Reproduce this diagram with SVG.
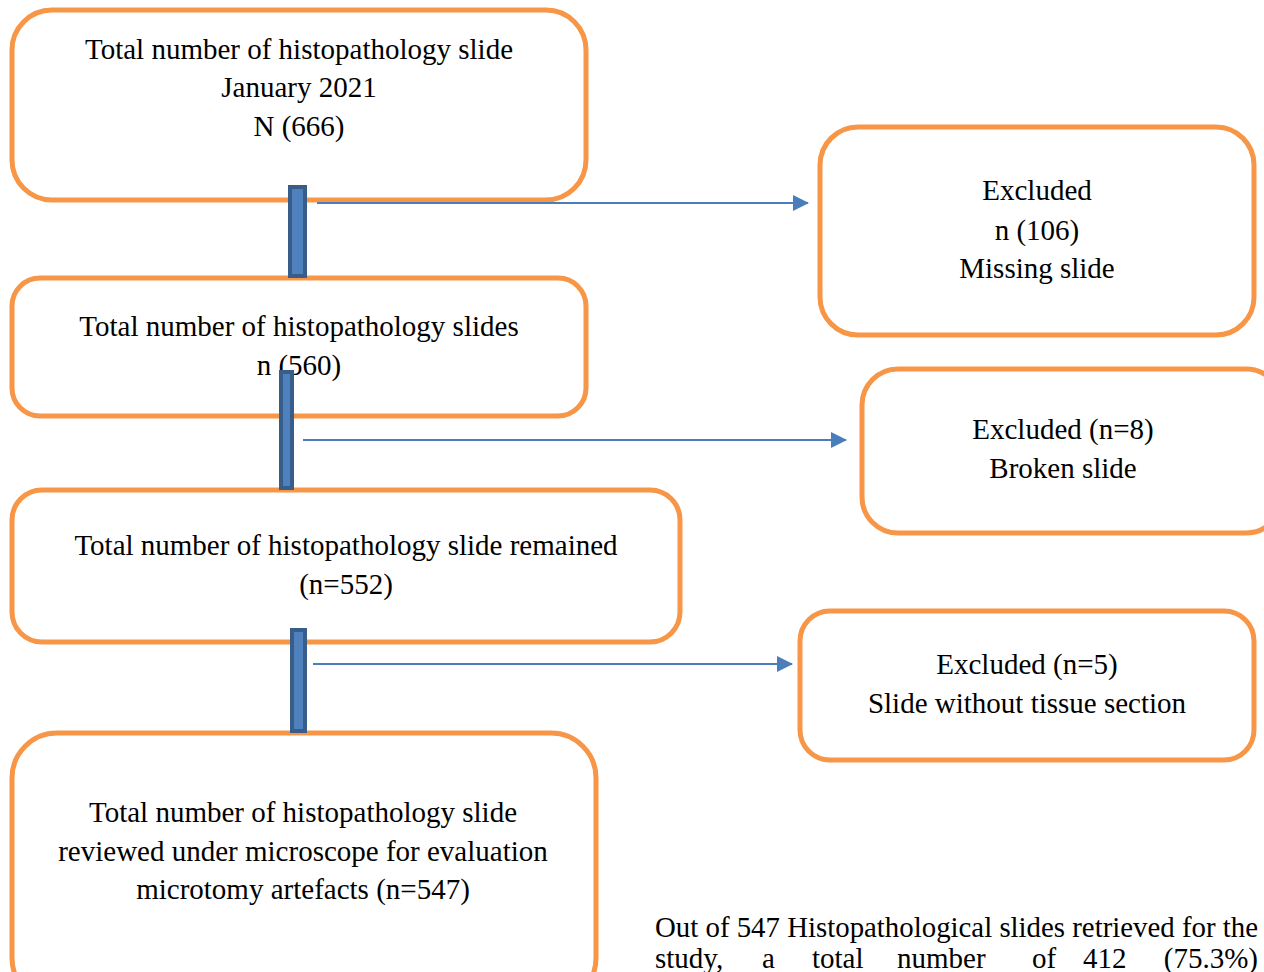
<svg xmlns="http://www.w3.org/2000/svg" width="1264" height="972" viewBox="0 0 1264 972">
<style>
.box{fill:#ffffff;stroke:#F79646;stroke-width:5}
.t{font-family:"Liberation Serif","Times New Roman",serif;font-size:29px;fill:#000;text-anchor:middle}
.tl{font-family:"Liberation Serif","Times New Roman",serif;font-size:29px;fill:#000}
.bar{fill:#4F81BD;stroke:#385D8A;stroke-width:4}
.arr{stroke:#4A7EBB;stroke-width:2;fill:none;marker-end:url(#ah)}
</style>
<defs>
<marker id="ah" markerWidth="16" markerHeight="16" refX="15" refY="8" orient="auto" markerUnits="userSpaceOnUse">
<path d="M0,0 L16,8 L0,16 Z" fill="#4A7EBB"/>
</marker>
</defs>
<rect width="1264" height="972" fill="#ffffff"/>
<g id="n1"><rect class="box" x="12" y="10" width="574" height="190" rx="40"/>
<text class="t" x="299" y="59">Total number of histopathology slide</text>
<text class="t" x="299" y="97">January 2021</text>
<text class="t" x="299" y="136">N (666)</text></g>
<g id="n2"><rect class="box" x="820" y="127" width="434" height="208" rx="38"/>
<text class="t" x="1037" y="200">Excluded</text>
<text class="t" x="1037" y="240">n (106)</text>
<text class="t" x="1037" y="278">Missing slide</text></g>
<g id="n3"><rect class="box" x="12" y="278" width="574" height="138" rx="28"/>
<text class="t" x="299" y="336">Total number of histopathology slides</text>
<text class="t" x="299" y="375">n (560)</text></g>
<g id="n4"><rect class="box" x="862" y="369" width="420" height="164" rx="36"/>
<text class="t" x="1063" y="439">Excluded (n=8)</text>
<text class="t" x="1063" y="478">Broken slide</text></g>
<g id="n5"><rect class="box" x="12" y="490" width="668" height="152" rx="30"/>
<text class="t" x="346" y="555">Total number of histopathology slide remained</text>
<text class="t" x="346" y="594">(n=552)</text></g>
<g id="n6"><rect class="box" x="800" y="611" width="454" height="149" rx="30"/>
<text class="t" x="1027" y="674">Excluded (n=5)</text>
<text class="t" x="1027" y="713">Slide without tissue section</text></g>
<g id="n7"><rect class="box" x="12" y="733" width="584" height="270" rx="45"/>
<text class="t" x="303" y="822">Total number of histopathology slide</text>
<text class="t" x="303" y="861">reviewed under microscope for evaluation</text>
<text class="t" x="303" y="899">microtomy artefacts (n=547)</text></g>
<g id="connectors">
<rect class="bar" x="290" y="187" width="15" height="89"/>
<rect class="bar" x="281" y="372" width="11" height="116"/>
<rect class="bar" x="292" y="630" width="13" height="101"/>
<line class="arr" x1="317" y1="203" x2="808" y2="203"/>
<line class="arr" x1="303" y1="440" x2="846" y2="440"/>
<line class="arr" x1="313" y1="664" x2="792" y2="664"/>
</g>
<g id="note">
<text class="tl" x="655" y="937" textLength="603" lengthAdjust="spacingAndGlyphs">Out of 547 Histopathological slides retrieved for the</text>
<text class="tl" x="655" y="968">study,</text>
<text class="tl" x="762" y="968">a</text>
<text class="tl" x="812" y="968">total</text>
<text class="tl" x="897" y="968">number</text>
<text class="tl" x="1032" y="968">of</text>
<text class="tl" x="1083" y="968">412</text>
<text class="tl" x="1258" y="968" text-anchor="end">(75.3%)</text>
</g>
</svg>
